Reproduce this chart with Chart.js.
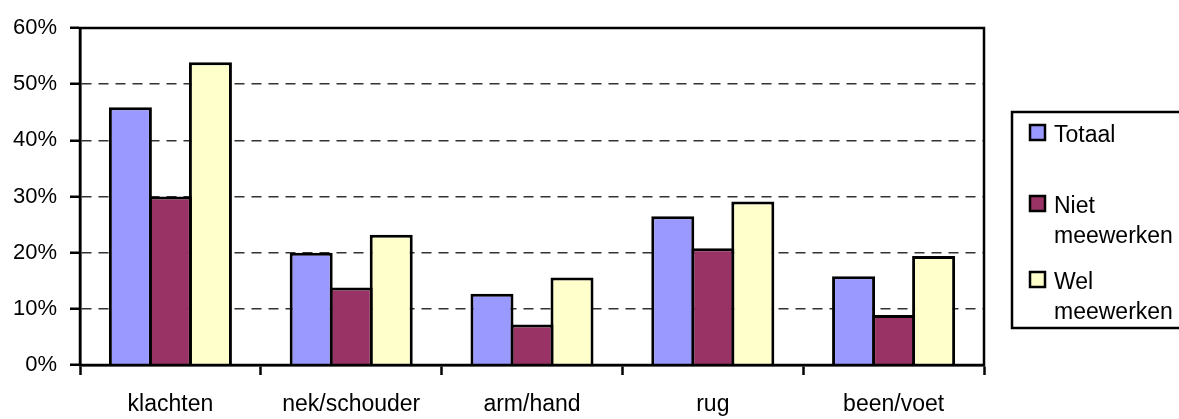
<!DOCTYPE html>
<html>
<head>
<meta charset="utf-8">
<script src="https://cdn.jsdelivr.net/npm/chart.js@4/dist/chart.umd.min.js"></script>
<style>
    html, body { margin: 0; padding: 0; background: #fff; }
    #wrap { width: 1179px; height: 419px; position: relative; }
</style>
</head>
<body>
<div id="wrap"><canvas id="klachten-chart"></canvas></div>
<script>
// categorieen en percentages per groep
const categories = ['klachten', 'nek/schouder', 'arm/hand', 'rug', 'been/voet'];
const totaal = [45.9, 20.0, 12.7, 26.5, 15.8];
const nietMeewerken = [30.0, 13.8, 7.2, 20.8, 8.9];
const welMeewerken = [53.9, 23.2, 15.6, 29.1, 19.4];
const seriesLabels = [['Totaal'], ['Niet', 'meewerken'], ['Wel', 'meewerken']];
const yTicks = [0, 10, 20, 30, 40, 50, 60];

const $canvas = document.getElementById('klachten-chart');
const fontFamily = '"Liberation Sans", Arial, sans-serif';

// kader rond het plotgebied
const framePlugin = {
    id: 'frame',
    afterDraw(chart) {
        const { ctx, chartArea } = chart;
        ctx.save();
        ctx.strokeStyle = '#000';
        ctx.lineWidth = 2.5;
        ctx.strokeRect(chartArea.left, chartArea.top, chartArea.right - chartArea.left, chartArea.bottom - chartArea.top);
        ctx.restore();
    }
};

// legenda rechts, met tekst over twee regels
const legendPlugin = {
    id: 'boxLegend',
    afterDraw(chart) {
        const { ctx } = chart;
        const boxLeft = 1012, boxTop = 112, boxBottom = 328;
        const itemTops = [125, 196, 272];
        ctx.save();
        ctx.lineWidth = 2.5;
        ctx.strokeStyle = '#000';
        ctx.strokeRect(boxLeft, boxTop, 200, boxBottom - boxTop);

        ctx.font = '23px ' + fontFamily;
        ctx.textBaseline = 'alphabetic';
        chart.data.datasets.forEach((dataset, i) => {
            const top = itemTops[i];
            ctx.fillStyle = dataset.backgroundColor;
            ctx.fillRect(1030, top, 15, 15);
            ctx.lineWidth = 2.5;
            ctx.strokeRect(1030, top, 15, 15);
            ctx.fillStyle = '#000';
            dataset.legendLines.forEach((line, j) => {
                ctx.fillText(line, 1054, top + 17 + j * 30);
            });
        });
        ctx.restore();
    }
};

new Chart($canvas, {
    type: 'bar',
    data: {
        labels: categories,
        datasets: [{
            label: 'Totaal',
            legendLines: seriesLabels[0],
            data: totaal,
            backgroundColor: '#9999FF'
        }, {
            label: 'Niet meewerken',
            legendLines: seriesLabels[1],
            data: nietMeewerken,
            backgroundColor: '#993366'
        }, {
            label: 'Wel meewerken',
            legendLines: seriesLabels[2],
            data: welMeewerken,
            backgroundColor: '#FFFFCC'
        }]
    },
    options: {
        responsive: true,
        maintainAspectRatio: false,
        animation: false,
        layout: {
            padding: { left: 0, top: 28, right: 195, bottom: 0 }
        },
        datasets: {
            bar: {
                borderColor: '#000',
                borderWidth: 3,
                categoryPercentage: 0.664,
                barPercentage: 1.075
            }
        },
        plugins: {
            legend: { display: false },
            tooltip: { enabled: false }
        },
        scales: {
            x: {
                afterFit: (scale) => { scale.height = 54; },
                grid: {
                    offset: true,
                    drawOnChartArea: false,
                    drawTicks: true,
                    tickLength: 10,
                    tickColor: '#000',
                    tickWidth: 2.5
                },
                border: { color: '#000', width: 2.5 },
                ticks: {
                    color: '#000',
                    padding: 16,
                    font: { family: fontFamily, size: 23 }
                }
            },
            y: {
                min: 0,
                max: 60,
                afterFit: (scale) => { scale.width = 80; },
                afterBuildTicks: (scale) => {
                    scale.ticks = yTicks.map(v => ({ value: v }));
                },
                grid: {
                    color: (context) => (context.tick && (context.tick.value === 0 || context.tick.value === 60)) ? 'rgba(0,0,0,0)' : '#333',
                    lineWidth: 1.5,
                    tickLength: 10,
                    tickColor: '#000',
                    tickWidth: 2.5,
                    tickBorderDash: []
                },
                border: { color: '#000', width: 2.5, dash: [10, 7] },
                ticks: {
                    color: '#000',
                    padding: 13,
                    font: { family: fontFamily, size: 22 },
                    callback: (value) => value + '%'
                }
            }
        }
    },
    plugins: [framePlugin, legendPlugin]
});
</script>
</body>
</html>
